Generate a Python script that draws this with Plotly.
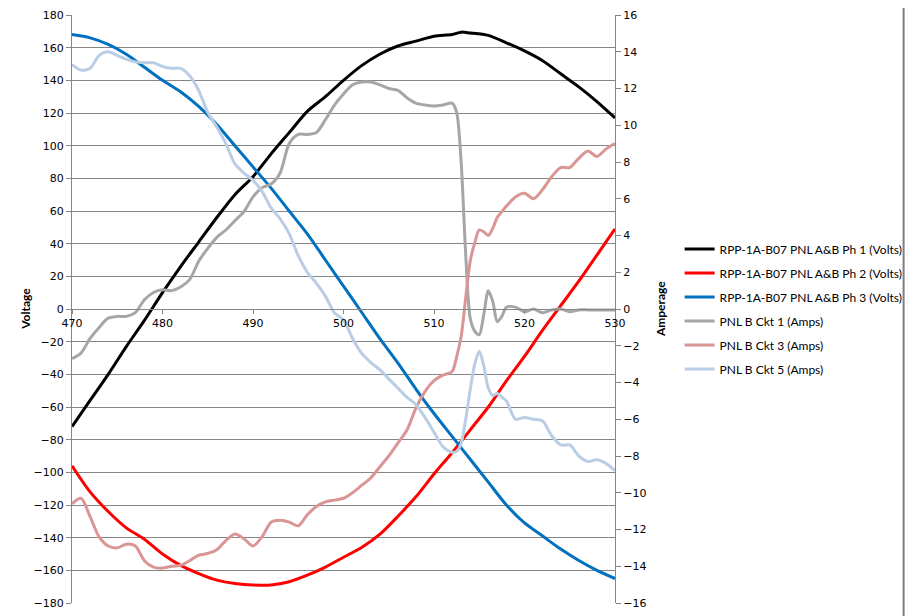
import plotly.graph_objects as go

# ---------------- data ----------------
v_x = [470, 472, 474, 476, 478, 480, 482, 484, 486, 488, 490, 492, 494, 496, 498,
       500, 502, 504, 506, 508, 510, 512, 513, 514, 516, 518, 520, 522, 524, 526, 528, 530]
ph1 = [-72, -56, -40, -23, -7, 10, 26, 41, 56, 70, 81, 95, 108, 121, 130,
       140, 149, 156, 161, 164, 167, 168, 169.5, 169, 167.5, 163, 158, 152, 144, 136, 127, 117]

ph2_x = [470, 472, 474, 476, 478, 480, 482, 484, 486, 488, 490, 492, 494, 496, 498,
         500, 502, 504, 506, 508, 510, 512, 514, 516, 518, 520, 522, 524, 526, 528, 530]
ph2 = [-96, -112, -124, -134, -141, -150, -157, -162, -166, -168, -169, -169, -167, -163, -158,
       -152, -146, -138, -127, -115, -101, -88, -74, -60, -44, -29, -13, 2, 17, 33, 49]

ph3_x = [470, 472, 474, 476, 478, 480, 482, 484, 486, 488, 490, 492, 494, 496, 498,
         500, 502, 504, 506, 508, 510, 512, 514, 516, 518, 520, 522, 524, 526, 528, 530]
ph3 = [168, 166, 162, 156, 148, 140, 133, 124, 113, 100, 87, 74, 60, 46, 30,
       14, -2, -18, -33, -49, -64, -78, -92, -106, -120, -131, -139, -147, -154, -160, -165]

a_x = [470, 471, 472, 473, 474, 475, 476, 477, 478, 479, 480, 481, 482, 483, 484, 485,
       486, 487, 488, 489, 490, 491, 492, 493, 494, 495, 496, 497, 498, 499, 500, 501,
       502, 503, 504, 505, 506, 507, 508, 509, 510, 511, 512, 512.5, 513, 513.5, 514,
       514.5, 515, 515.5, 516, 516.5, 517, 517.5, 518, 519, 520, 521, 522, 523, 524,
       525, 526, 527, 528, 529, 530]

ckt1 = [-2.7, -2.4, -1.6, -1.0, -0.5, -0.4, -0.4, -0.2, 0.5, 0.9, 1.05, 1.0, 1.2, 1.6, 2.6, 3.3,
        3.9, 4.3, 4.8, 5.3, 6.1, 6.6, 6.8, 7.4, 9.0, 9.5, 9.5, 9.6, 10.3, 11.1, 11.7, 12.2,
        12.35, 12.35, 12.2, 12.0, 11.9, 11.5, 11.2, 11.1, 11.05, 11.1, 11.2, 10.7, 8.0, 3.0, -0.5,
        -1.2, -1.4, -0.3, 1.0, 0.4, -0.7, -0.4, 0.1, 0.1, -0.15, 0.0, -0.2, -0.05, 0.0,
        -0.15, -0.05, -0.05, -0.05, -0.05, -0.05]

ckt3 = [-10.6, -10.3, -11.3, -12.4, -12.9, -13.0, -12.8, -12.9, -13.7, -14.05, -14.1, -14.0, -13.95, -13.7, -13.4, -13.3,
        -13.1, -12.6, -12.25, -12.5, -12.9, -12.4, -11.6, -11.5, -11.6, -11.8, -11.2, -10.75, -10.5, -10.4, -10.3, -10.0,
        -9.6, -9.2, -8.6, -8.0, -7.3, -6.6, -5.4, -4.5, -3.9, -3.6, -3.4, -2.6, -1.5, 0.6, 2.6,
        3.6, 4.3, 4.2, 4.0, 4.4, 5.0, 5.3, 5.6, 6.1, 6.3, 6.0, 6.5, 7.2, 7.7,
        7.7, 8.2, 8.6, 8.3, 8.7, 9.0]

ckt5 = [13.3, 13.0, 13.1, 13.8, 14.0, 13.8, 13.6, 13.45, 13.4, 13.4, 13.2, 13.1, 13.1, 12.7, 11.9, 10.7,
        9.9, 9.0, 7.9, 7.4, 7.0, 6.4, 5.5, 4.9, 4.1, 2.9, 2.0, 1.4, 0.7, -0.2, -0.6, -1.6,
        -2.4, -2.9, -3.3, -3.8, -4.3, -4.8, -5.2, -5.9, -6.7, -7.5, -7.8, -7.75, -7.3, -6.0, -4.4,
        -3.0, -2.3, -3.1, -4.3, -4.7, -4.6, -4.8, -5.0, -6.0, -5.9, -6.0, -6.1, -6.9, -7.4,
        -7.4, -8.0, -8.3, -8.2, -8.4, -8.8]

names = ["RPP-1A-B07 PNL A&B Ph 1 (Volts)", "RPP-1A-B07 PNL A&B Ph 2 (Volts)",
         "RPP-1A-B07 PNL A&B Ph 3 (Volts)", "PNL B Ckt 1 (Amps)",
         "PNL B Ckt 3 (Amps)", "PNL B Ckt 5 (Amps)"]

x_ticks = [470, 480, 490, 500, 510, 520, 530]
v_ticks = list(range(-180, 181, 20))
a_ticks = list(range(-16, 17, 2))

# ---------------- figure ----------------
FONT = "Lato, 'Liberation Sans', sans-serif"
TICKFONT = dict(family="'DejaVu Sans', Verdana, sans-serif", size=11, color="#000000")
AXC = "#868686"

fig = go.Figure()
series = [
    (v_x, ph1, names[0], "#000000", "y"),
    (ph2_x, ph2, names[1], "#FF0000", "y"),
    (ph3_x, ph3, names[2], "#0070C0", "y"),
    (a_x, ckt1, names[3], "#A6A6A6", "y2"),
    (a_x, ckt3, names[4], "#D99694", "y2"),
    (a_x, ckt5, names[5], "#B9CDE5", "y2"),
]
for i, (xs, ys, nm, col, ax) in enumerate(series):
    fig.add_trace(go.Scatter(
        x=xs, y=ys, name=nm, yaxis=ax, mode="lines",
        line=dict(color=col, width=3, shape="spline", smoothing=0.8),
        legendgroup=f"g{i}",
    ))

fig.update_layout(
    width=913, height=616, autosize=False,
    margin=dict(l=64, r=306, t=7, b=21, autoexpand=False),
    paper_bgcolor="white", plot_bgcolor="white",
    font=dict(family=FONT, size=12, color="#000000"),
    showlegend=True,
    legend=dict(x=1.119, y=0.5, xanchor="left", yanchor="middle",
                traceorder="grouped", tracegroupgap=5,
                font=dict(family=FONT, size=12, color="#000000"),
                itemwidth=30, bgcolor="rgba(0,0,0,0)"),
    xaxis=dict(range=[470, 530], tickvals=x_ticks, ticktext=[str(t) for t in x_ticks],
               anchor="free", position=0.5, showgrid=False, zeroline=False,
               showline=True, linecolor=AXC, linewidth=1,
               ticks="outside", ticklen=4, tickcolor=AXC, tickfont=TICKFONT),
    yaxis=dict(range=[-180, 180], tickvals=v_ticks, showgrid=True, gridcolor=AXC,
               gridwidth=1, zeroline=False, showline=True, linecolor=AXC, linewidth=1,
               ticks="outside", ticklen=5, tickcolor=AXC, tickfont=TICKFONT),
    yaxis2=dict(range=[-16, 16], tickvals=a_ticks, overlaying="y", side="right",
                showgrid=False, zeroline=False, showline=True, linecolor=AXC, linewidth=1,
                ticks="outside", ticklen=5, tickcolor=AXC, tickfont=TICKFONT),
    annotations=[
        dict(text="<b>Voltage</b>", xref="paper", yref="paper", x=-0.087, y=0.5,
             xanchor="center", yanchor="middle",
             textangle=-90, showarrow=False, font=dict(family=FONT, size=12)),
        dict(text="<b>Amperage</b>", xref="paper", yref="paper", x=1.083, y=0.5,
             xanchor="center", yanchor="middle",
             textangle=-90, showarrow=False, font=dict(family=FONT, size=12)),
    ],
    shapes=[
        dict(type="line", xref="paper", yref="paper", x0=1.5315, x1=1.5315, y0=-0.04, y1=1.04,
             line=dict(color="#7F7F7F", width=2), layer="above"),
    ],
)

fig.write_html("out.html")
